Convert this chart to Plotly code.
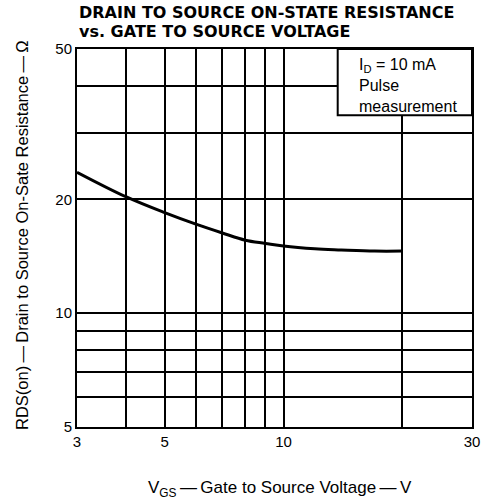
import plotly.graph_objects as go

# curve (log-log)
vgs = [3, 4, 5, 6, 7, 8, 9, 10, 12, 14, 17, 20]
rds_on = [23.6, 20.3, 18.45, 17.2, 16.3, 15.6, 15.3, 15.05, 14.8, 14.7, 14.6, 14.6]

x_grid = [3, 4, 5, 6, 7, 8, 9, 10, 20, 30]
x_text = ["3", "", "5", "", "", "", "", "10", "", "30"]
y_grid = [5, 6, 7, 8, 9, 10, 20, 30, 40, 50]
y_text = ["5", "", "", "", "", "10", "20", "", "", "50"]

FONT = "Liberation Sans, Arial, sans-serif"
TITLE_FONT = "DejaVu Sans, sans-serif"

fig = go.Figure(go.Scatter(
    x=vgs,
    y=rds_on,
    mode="lines",
    line=dict(color="black", width=3, shape="spline"),
    showlegend=False,
))

axis = dict(
    type="log",
    showgrid=True,
    gridcolor="black",
    gridwidth=1.5,
    showline=True,
    linecolor="black",
    linewidth=2,
    mirror=True,
    ticks="",
    zeroline=False,
    tickfont=dict(family=FONT, size=15, color="black"),
)

fig.update_xaxes(**axis, range=[0.477121, 1.477121], tickvals=x_grid, ticktext=x_text)
fig.update_yaxes(**axis, range=[0.69897, 1.69897], tickvals=y_grid, ticktext=y_text)

fig.update_layout(
    width=492,
    height=499,
    paper_bgcolor="white",
    plot_bgcolor="white",
    margin=dict(l=77, r=15, t=49, b=72),
    font=dict(family=FONT, color="black"),
    shapes=[dict(
        type="rect", xref="x domain", yref="y domain",
        x0=0.66, x1=1.0, y0=0.825, y1=1.0,
        fillcolor="white", line=dict(color="black", width=2), layer="above",
    )],
    annotations=[
        dict(text="<b>DRAIN TO SOURCE ON-STATE RESISTANCE</b>",
             xref="paper", yref="paper", x=0, y=1, xanchor="left", yanchor="middle",
             yshift=37, showarrow=False, font=dict(family=TITLE_FONT, size=16)),
        dict(text="<b>vs. GATE TO SOURCE VOLTAGE</b>",
             xref="paper", yref="paper", x=0, y=1, xanchor="left", yanchor="middle",
             yshift=18, showarrow=False, font=dict(family=TITLE_FONT, size=16)),
        dict(text="I<sub>D</sub> = 10 mA<br>Pulse<br>measurement",
             xref="x domain", yref="y domain", x=0.71, y=0.988, xanchor="left", yanchor="top",
             align="left", showarrow=False, font=dict(family=FONT, size=16)),
        dict(text="RDS(on)\u2009—\u2009Drain to Source On-Sate Resistance\u2009—\u2009Ω",
             xref="paper", yref="paper", x=0, y=0.5, xshift=-55, yshift=3, textangle=-90,
             xanchor="center", yanchor="middle", showarrow=False,
             font=dict(family=FONT, size=16.5)),
        dict(text="V<sub>GS</sub>\u2009—\u2009Gate to Source Voltage\u2009—\u2009V",
             xref="paper", yref="paper", x=0.515, y=0, yshift=-62,
             xanchor="center", yanchor="middle", showarrow=False,
             font=dict(family=FONT, size=17)),
    ],
)

fig.write_html("out.html", config={"displayModeBar": False},
               post_script="document.body.style.margin='0';")
